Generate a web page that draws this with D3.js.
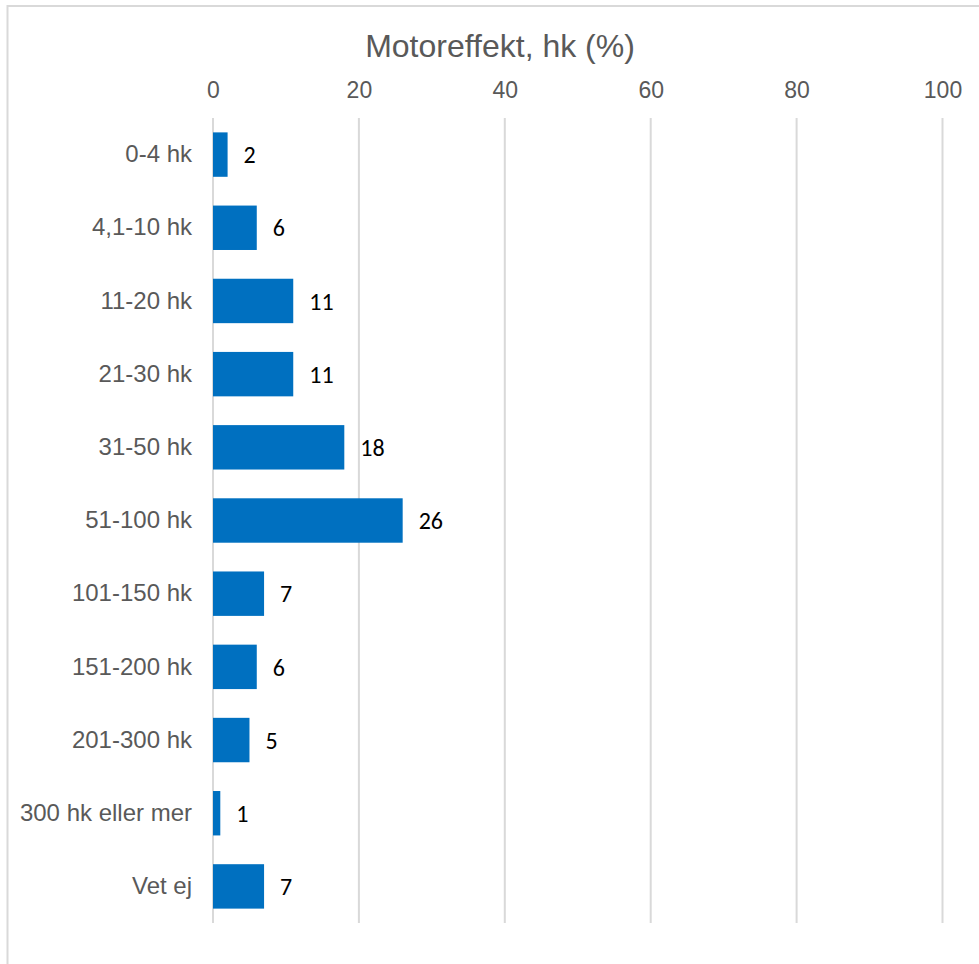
<!DOCTYPE html>
<html>
<head>
<meta charset="utf-8">
<script src="https://cdn.jsdelivr.net/npm/d3@7/dist/d3.min.js"></script>
<style>
html, body { margin: 0; padding: 0; background: #fff; }
svg { display: block; }
</style>
</head>
<body>
<div id="chart"></div>
<script>
const categories = ["0-4 hk", "4,1-10 hk", "11-20 hk", "21-30 hk", "31-50 hk", "51-100 hk",
  "101-150 hk", "151-200 hk", "201-300 hk", "300 hk eller mer", "Vet ej"];
const values = [2, 6, 11, 11, 18, 26, 7, 6, 5, 1, 7];
const tickValues = [0, 20, 40, 60, 80, 100];
const title = "Motoreffekt, hk (%)";

const W = 979, H = 964;
const svg = d3.select("#chart").append("svg").attr("width", W).attr("height", H);

// chart area border
svg.append("rect").attr("x", 7.5).attr("y", 6).attr("width", W + 20).attr("height", H + 20)
  .attr("fill", "#fff").attr("stroke", "#d9d9d9").attr("stroke-width", 2);

const x = d3.scaleLinear().domain([0, 100]).range([213, 942.5]);
const y = d3.scaleBand().domain(categories).range([118, 923]).paddingInner(0.393).paddingOuter(0.1965);

// gridlines
svg.append("g").selectAll("line").data(tickValues).join("line")
  .attr("x1", d => x(d)).attr("x2", d => x(d))
  .attr("y1", 118).attr("y2", 923)
  .attr("stroke", "#d9d9d9").attr("stroke-width", 2);

// top axis labels
const axis = d3.axisTop(x).tickValues(tickValues).tickSize(0).tickPadding(0);
const ag = svg.append("g").attr("transform", "translate(0,98)").call(axis);
ag.select(".domain").remove();
ag.selectAll("text").attr("fill", "#595959")
  .style("font-family", "'Liberation Sans', Arial, sans-serif").style("font-size", "23px")
  .attr("dy", "0");

// title
svg.append("text").attr("x", 500).attr("y", 57).attr("text-anchor", "middle")
  .attr("fill", "#595959").style("font-family", "'Liberation Sans', Arial, sans-serif")
  .style("font-size", "32px").text(title);

// bars
svg.append("g").selectAll("rect").data(values).join("rect")
  .attr("x", x(0)).attr("y", (d, i) => y(categories[i]))
  .attr("width", d => x(d) - x(0)).attr("height", y.bandwidth())
  .attr("fill", "#0070C0");

// category labels
const yAxis = d3.axisLeft(y).tickSize(0).tickPadding(21);
const yg = svg.append("g").attr("transform", `translate(${x(0)},0)`).call(yAxis);
yg.select(".domain").remove();
yg.selectAll("text").attr("fill", "#595959")
  .style("font-family", "'Liberation Sans', Arial, sans-serif").style("font-size", "24px");

// data labels
svg.append("g").selectAll("text").data(values).join("text")
  .attr("x", d => x(d) + 16).attr("y", (d, i) => y(categories[i]) + y.bandwidth() / 2)
  .attr("dy", "0.36em").attr("fill", "#000")
  .style("font-family", "Carlito, Calibri, Lato, sans-serif").style("font-size", "24px")
  .style("font-weight", "normal")
  .text(d => d);
</script>
</body>
</html>
